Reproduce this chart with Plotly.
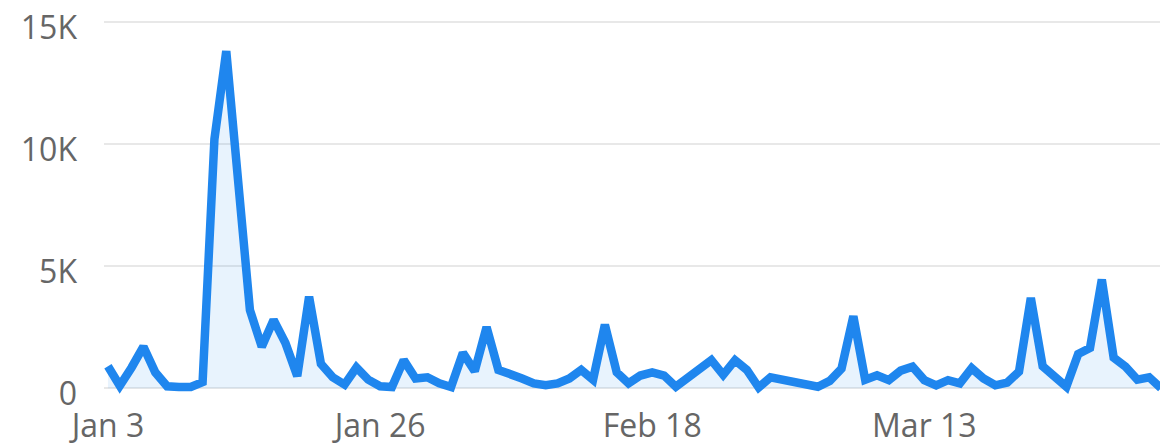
import pandas as pd
import plotly.graph_objects as go

start_date = "2021-01-03"
values = [
    900, 100, 850, 1700, 650, 80, 50, 50, 250, 10200,
    13800, 8000, 3200, 1700, 2800, 1850, 500, 3750, 1000, 450,
    150, 850, 350, 80, 50, 1150, 400, 450, 200, 50,
    1450, 700, 2500, 750, 600, 400, 200, 120, 200, 400,
    750, 350, 2600, 650, 200, 520, 650, 520, 60, 400,
    750, 1150, 550, 1150, 750, 30, 450, 350, 250, 150,
    60, 300, 800, 2950, 350, 530, 330, 720, 880, 330,
    120, 330, 200, 820, 400, 120, 230, 680, 3700, 900,
    450, 60, 1400, 1650, 4450, 1250, 880, 350, 450, 0,
]
dates = pd.date_range(start_date, periods=len(values), freq="D")

x_tick_dates = ["2021-01-03", "2021-01-26", "2021-02-18", "2021-03-13"]
x_tick_labels = ["Jan 3", "Jan 26", "Feb 18", "Mar 13"]
y_tick_vals = [0, 5000, 10000, 15000]
y_tick_labels = ["0", "5K", "10K", "15K"]

line_color = "#1f86ee"
text_color = "#666666"
font_family = "'Open Sans', 'Noto Sans', sans-serif"

fig = go.Figure()
fig.add_trace(go.Scatter(
    x=dates, y=values, mode="lines",
    line=dict(color=line_color, width=8.5),
    fill="tozeroy", fillcolor="rgba(31,134,238,0.10)",
    hoverinfo="skip",
))

x0 = pd.Timestamp(start_date) - pd.Timedelta(hours=8)
x1 = pd.Timestamp("2021-04-01 22:00")

fig.update_layout(
    width=1160, height=447,
    margin=dict(l=104, r=0, t=17, b=49),
    paper_bgcolor="white", plot_bgcolor="white",
    showlegend=False,
    font=dict(family=font_family, size=32, color=text_color),
    xaxis=dict(
        range=[x0, x1], tickvals=pd.to_datetime(x_tick_dates), ticktext=x_tick_labels,
        showgrid=False, zeroline=False, showline=False, ticks="",
        tickfont=dict(family=font_family, size=32, color=text_color),
        ticklabelstandoff=6, automargin=False, ticklabeloverflow="allow",
    ),
    yaxis=dict(
        range=[-400, 15200], tickvals=y_tick_vals, ticktext=y_tick_labels,
        showgrid=True, gridcolor="#e8e8e8", gridwidth=1.5, zeroline=False,
        showline=False, ticks="", tickfont=dict(family=font_family, size=32, color=text_color),
        ticklabelstandoff=26, ticklabelshift=6, automargin=False,
        ticklabeloverflow="allow",
    ),
)

fig.write_html(
    "out.html",
    config={"displayModeBar": False},
    post_script="document.body.style.margin='0';document.body.style.overflow='hidden';",
)
